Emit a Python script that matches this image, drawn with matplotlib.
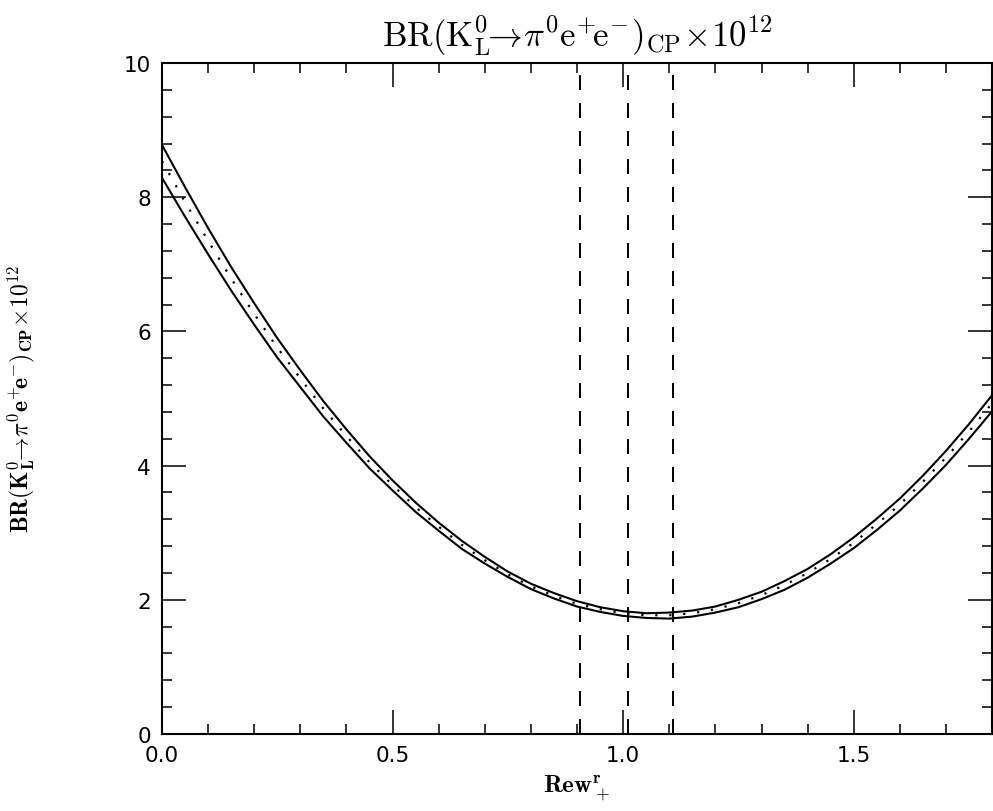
import matplotlib
matplotlib.use('Agg')
import matplotlib.pyplot as plt
from matplotlib.ticker import MultipleLocator

plt.rcParams['mathtext.fontset'] = 'cm'
plt.rcParams['font.family'] = ['DejaVu Sans']

# Rew_+^r grid and the three curves
rew = [0.00, 0.05, 0.10, 0.15, 0.20, 0.25, 0.30, 0.35, 0.40, 0.45,
       0.50, 0.55, 0.60, 0.65, 0.70, 0.75, 0.80, 0.85, 0.90, 0.95,
       1.00, 1.05, 1.10, 1.15, 1.20, 1.25, 1.30, 1.35, 1.40, 1.45,
       1.50, 1.55, 1.60, 1.65, 1.70, 1.75, 1.80]
br_upper = [8.78, 8.15, 7.54, 6.96, 6.42, 5.90, 5.42, 4.96, 4.54, 4.14,
            3.78, 3.45, 3.15, 2.88, 2.64, 2.42, 2.24, 2.10, 1.98, 1.89,
            1.83, 1.80, 1.81, 1.84, 1.90, 2.00, 2.12, 2.28, 2.46, 2.68,
            2.93, 3.21, 3.51, 3.85, 4.22, 4.62, 5.05]
br_central = [8.54, 7.93, 7.35, 6.79, 6.26, 5.76, 5.30, 4.85, 4.44, 4.05,
              3.71, 3.38, 3.09, 2.82, 2.59, 2.38, 2.20, 2.06, 1.94, 1.86,
              1.80, 1.77, 1.77, 1.80, 1.86, 1.95, 2.07, 2.22, 2.40, 2.61,
              2.85, 3.13, 3.42, 3.76, 4.12, 4.51, 4.93]
br_lower = [8.29, 7.71, 7.15, 6.61, 6.10, 5.61, 5.17, 4.73, 4.34, 3.96,
            3.63, 3.31, 3.03, 2.76, 2.54, 2.34, 2.16, 2.02, 1.90, 1.82,
            1.76, 1.73, 1.72, 1.75, 1.81, 1.89, 2.01, 2.15, 2.33, 2.54,
            2.77, 3.04, 3.33, 3.66, 4.01, 4.40, 4.81]

# vertical dashed markers
rew_marks = [0.906, 1.01, 1.108]

fig = plt.figure(figsize=(9.93, 8.12), dpi=100)
ax = fig.add_axes([0.1631, 0.0948, 0.836, 0.8264])

ax.plot(rew, br_upper, color='black', lw=1.5)
ax.plot(rew, br_lower, color='black', lw=1.5)
ax.plot(rew, br_central, color='black', lw=1.6, linestyle=(0, (1, 5.3)))
for xm in rew_marks:
    ax.axvline(xm, color='black', lw=1.4, linestyle=(0, (7.7, 6.7)))

ax.set_xlim(0, 1.8)
ax.set_ylim(0, 10)
ax.xaxis.set_major_locator(MultipleLocator(0.5))
ax.xaxis.set_minor_locator(MultipleLocator(0.1))
ax.yaxis.set_major_locator(MultipleLocator(2))
ax.yaxis.set_minor_locator(MultipleLocator(0.4))
ax.tick_params(which='both', direction='in', top=True, right=True, width=1.1,
               labelsize=15.5, colors='black')
ax.tick_params(which='major', length=17, pad=8)
ax.tick_params(which='minor', length=7.5)
ax.xaxis.set_major_formatter(plt.FuncFormatter(lambda v, p: f'{v:.1f}'))
ax.yaxis.set_major_formatter(plt.FuncFormatter(lambda v, p: f'{v:.0f}'))
for s in ax.spines.values():
    s.set_linewidth(1.5)

ax.set_title(r'$\mathrm{BR(K_L^0\!\!\rightarrow\!\pi^0e^{+}\!e^{-})_{CP}\!\times\!10^{12}}$',
             fontsize=25, pad=12)
ax.set_xlabel(r'$\mathbf{Rew_+^r}$', fontsize=18, labelpad=6)
ax.set_ylabel(r'$\mathbf{BR(K_L^0\!\!\rightarrow\!\pi^0e^{+}\!e^{-})_{CP}\!\times\!10^{12}}$',
              fontsize=17, labelpad=62)

fig.savefig('out.png', dpi=100)
